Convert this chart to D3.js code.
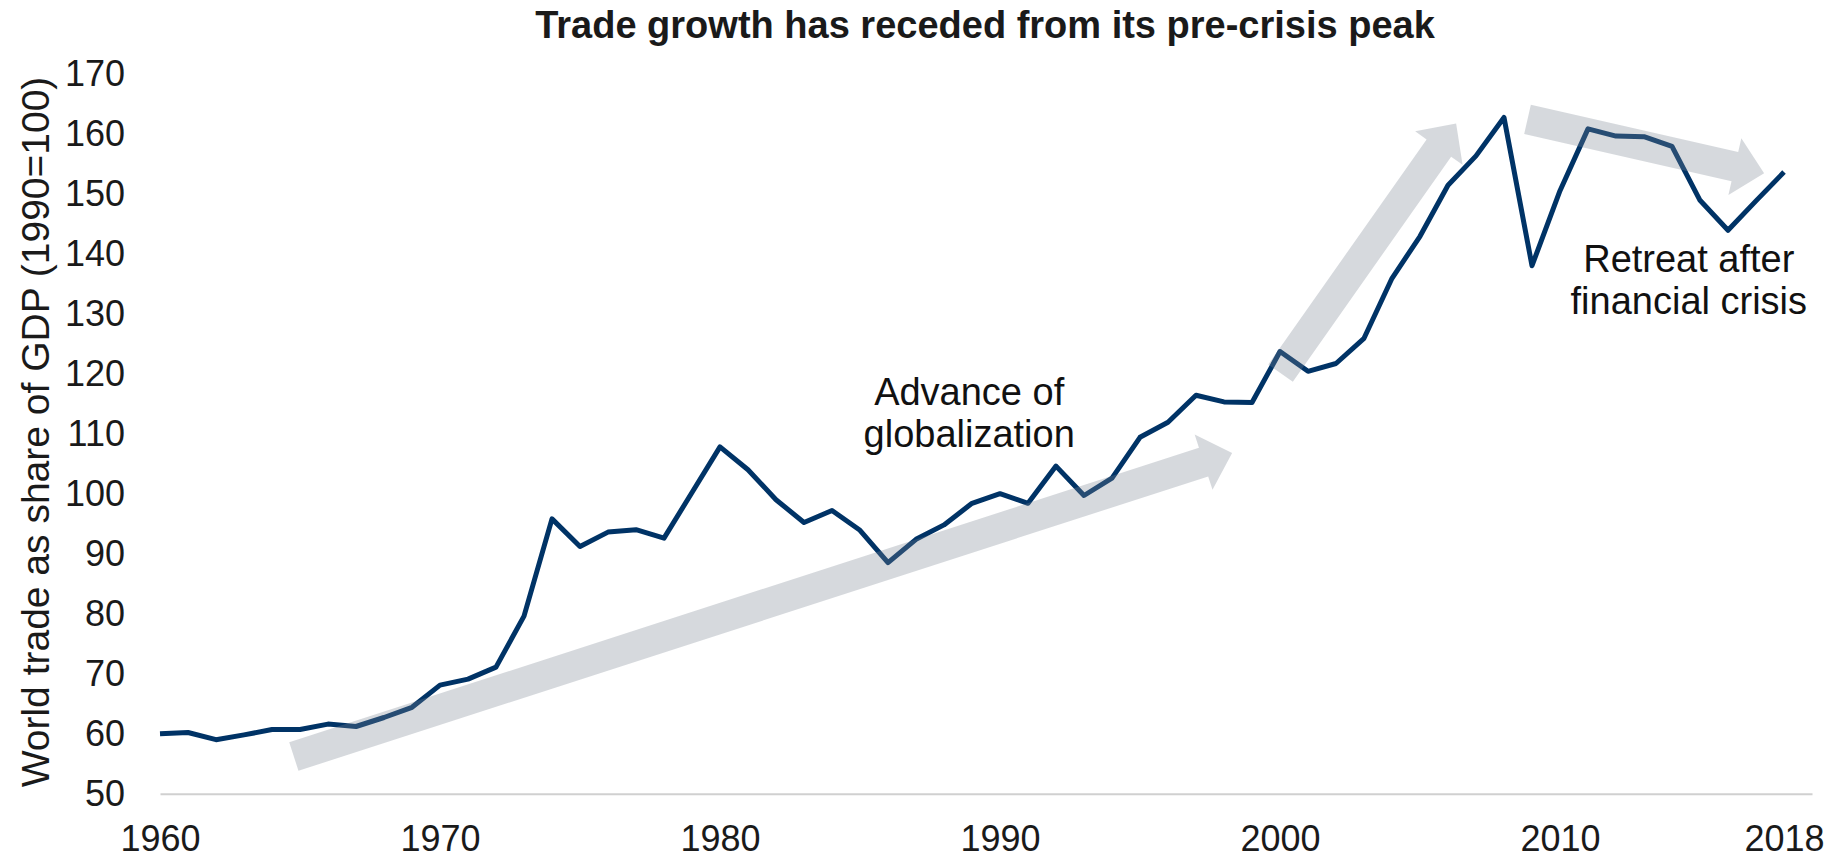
<!DOCTYPE html>
<html>
<head>
<meta charset="utf-8">
<script src="https://cdn.jsdelivr.net/npm/d3@7"></script>
<style>
  html, body { margin: 0; padding: 0; background: #ffffff; }
  svg { display: block; font-family: "Liberation Sans", Arial, Helvetica, sans-serif; }
</style>
</head>
<body>
<svg id="chart" width="1829" height="859"></svg>
<script>
// World trade as share of GDP, indexed to 1990 = 100
const years = d3.range(1960, 2019);
const tradeIndex = [
  60.0, 60.2, 59.0, 59.8, 60.7, 60.7, 61.6, 61.2, 62.7, 64.4,
  68.1, 69.1, 71.1, 79.6, 95.8, 91.2, 93.6, 94.0, 92.6, 100.2,
  107.8, 104.0, 99.0, 95.2, 97.2, 93.9, 88.5, 92.4, 94.8, 98.4,
  100.0, 98.4, 104.6, 99.7, 102.6, 109.4, 111.9, 116.4, 115.3, 115.2,
  123.7, 120.4, 121.7, 125.9, 135.9, 142.9, 151.4, 156.3, 162.7, 138.0,
  150.5, 160.8, 159.6, 159.5, 157.9, 148.9, 143.9, 148.8, 153.6
];

const xTickValues = [1960, 1970, 1980, 1990, 2000, 2010, 2018];
const yTickValues = d3.range(50, 171, 10);

const titleText = "Trade growth has receded from its pre-crisis peak";
const yAxisTitle = "World trade as share of GDP (1990=100)";

// Trend arrows: tail and tip in (year, index) units
const arrowTails = [[1964.78, 56.2], [2000.02, 120.1], [2008.84, 162.4]];
const arrowTips  = [[1998.29, 106.8], [2006.29, 161.7], [2017.29, 153.4]];

// Annotation labels, anchored in (year, index) units
const noteLines = [["Advance of", "globalization"], ["Retreat after", "financial crisis"]];
const noteAnchors = [[1988.9, 114.8], [2014.6, 137.0]];

const svg = d3.select("#chart");

const x = d3.scaleLinear().domain([1960, 2019]).range([160, 1812]);
const y = d3.scaleLinear().domain([50, 170]).range([793.7, 73.7]);

// Title
svg.append("text")
  .attr("x", 985)
  .attr("y", 38)
  .attr("text-anchor", "middle")
  .attr("font-size", 38)
  .attr("font-weight", "bold")
  .attr("fill", "#1a1a1a")
  .text(titleText);

// Y axis title
svg.append("text")
  .attr("transform", "translate(49,432) rotate(-90)")
  .attr("text-anchor", "middle")
  .attr("font-size", 39)
  .attr("fill", "#1a1a1a")
  .text(yAxisTitle);

// X axis (baseline + year labels)
const xAxis = svg.append("g")
  .attr("transform", `translate(0,${y(50)})`)
  .call(d3.axisBottom(x).tickValues(xTickValues).tickFormat(d3.format("d"))
    .tickSize(0).tickSizeOuter(0).tickPadding(32));
xAxis.select(".domain").attr("stroke", "#d0d0d0").attr("stroke-width", 2);
xAxis.selectAll("text").attr("font-size", 36).attr("fill", "#1a1a1a")
  .attr("font-family", "'Liberation Sans', Arial, sans-serif");

// Y axis labels
const yAxis = svg.append("g")
  .attr("transform", `translate(${x(1960)},0)`)
  .call(d3.axisLeft(y).tickValues(yTickValues).tickFormat(d3.format("d"))
    .tickSize(0).tickPadding(35));
yAxis.select(".domain").remove();
yAxis.selectAll("text").attr("font-size", 36).attr("fill", "#1a1a1a")
  .attr("font-family", "'Liberation Sans', Arial, sans-serif");

// Series line
const line = d3.line()
  .x((d, i) => x(years[i]))
  .y(d => y(d));

svg.append("path")
  .datum(tradeIndex)
  .attr("d", line)
  .attr("fill", "none")
  .attr("stroke", "#003366")
  .attr("stroke-width", 5)
  .attr("stroke-linejoin", "round");

// Block arrows, drawn over the series in translucent slate
function arrowPoints(t, p) {
  const tx = x(t[0]), ty = y(t[1]);
  const px = x(p[0]), py = y(p[1]);
  const len = Math.hypot(px - tx, py - ty);
  const ux = (px - tx) / len, uy = (py - ty) / len;
  const nx = -uy, ny = ux;
  const shaft = 15, head = 29, headLen = 30;
  const bx = px - ux * headLen, by = py - uy * headLen;
  return [
    [tx + nx * shaft, ty + ny * shaft],
    [bx + nx * shaft, by + ny * shaft],
    [bx + nx * head, by + ny * head],
    [px, py],
    [bx - nx * head, by - ny * head],
    [bx - nx * shaft, by - ny * shaft],
    [tx - nx * shaft, ty - ny * shaft]
  ];
}

svg.append("g")
  .selectAll("polygon")
  .data(arrowTails)
  .join("polygon")
  .attr("points", (d, i) => arrowPoints(d, arrowTips[i]).map(p => p.join(",")).join(" "))
  .attr("fill", "#7a8491")
  .attr("fill-opacity", 0.31);

// Annotations
const notes = svg.append("g")
  .selectAll("text")
  .data(noteLines)
  .join("text")
  .attr("text-anchor", "middle")
  .attr("font-size", 38)
  .attr("fill", "#111111")
  .attr("x", (d, i) => x(noteAnchors[i][0]))
  .attr("y", (d, i) => y(noteAnchors[i][1]));

notes.selectAll("tspan")
  .data(d => d)
  .join("tspan")
  .attr("x", function () { return d3.select(this.parentNode).attr("x"); })
  .attr("dy", (d, i) => i === 0 ? 0 : 42)
  .text(d => d);
</script>
</body>
</html>
